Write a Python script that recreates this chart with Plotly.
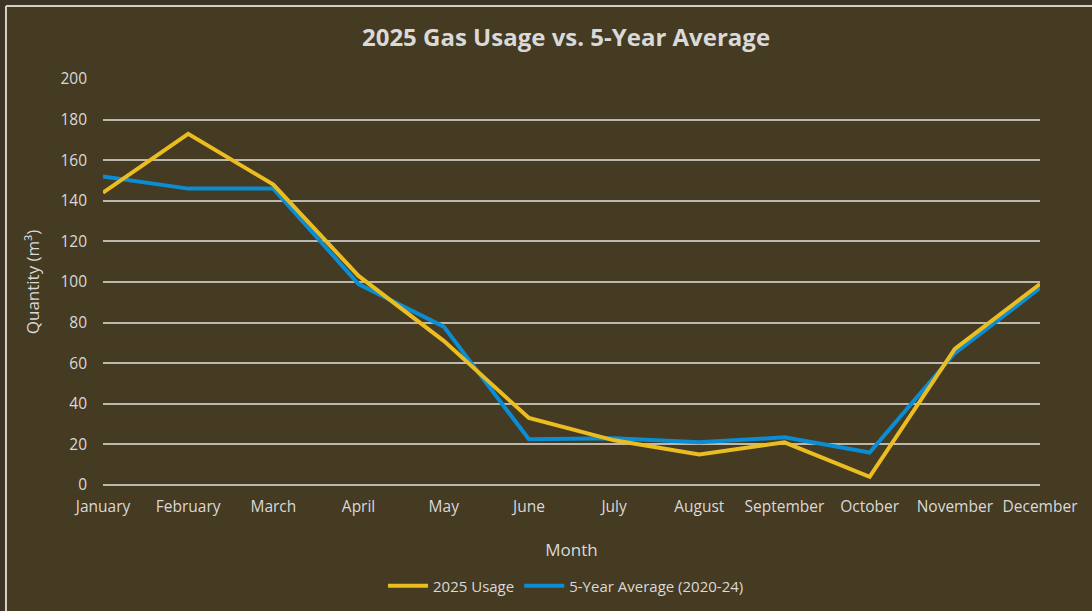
import plotly.graph_objects as go

months = ["January", "February", "March", "April", "May", "June", "July",
          "August", "September", "October", "November", "December"]
usage_2025 = [144, 173, 148, 103, 71, 33, 22, 15, 21, 4, 67, 99]
avg_5yr = [152, 146, 146, 99, 78, 22.5, 23, 21, 23.5, 16, 65, 97]
series_names = ["2025 Usage", "5-Year Average (2020-24)"]
y_ticks = [0, 20, 40, 60, 80, 100, 120, 140, 160, 180, 200]

BG = "#453a22"
TXT = "#d9d9d9"
FONT = "Open Sans"
GRID = "#bdb8ad"

fig = go.Figure()
fig.add_trace(go.Scatter(x=months, y=avg_5yr, mode="lines", name=series_names[1],
                         line=dict(color="#0b8dd4", width=4)))
fig.add_trace(go.Scatter(x=months, y=usage_2025, mode="lines", name=series_names[0],
                         line=dict(color="#ebbd21", width=4)))

L, R, T, B = 103, 52, 79, 126
W, H = 1092, 611
pw, ph = W - L - R, H - T - B

def px_x(p):
    return (p - L) / pw

def px_y(p):
    return (H - B - p) / ph

fig.update_layout(
    width=W, height=H,
    margin=dict(l=L, r=R, t=T, b=B, autoexpand=False),
    paper_bgcolor=BG, plot_bgcolor=BG,
    font=dict(family=FONT, color=TXT, size=15),
    title=dict(text="<b>2025 Gas Usage vs. 5-Year Average</b>", x=px_x(566), xref="paper",
               xanchor="center", y=1 - 38 / H, yanchor="middle",
               font=dict(size=24, color=TXT, family=FONT)),
    showlegend=True,
    legend=dict(orientation="h", x=px_x(566), xanchor="center", y=px_y(586), yanchor="middle",
                font=dict(size=15, color=TXT), bgcolor="rgba(0,0,0,0)", itemwidth=40,
                traceorder="reversed"),
    xaxis=dict(type="category", range=[0, 11], showgrid=False, zeroline=False,
               showline=False, ticks="", tickfont=dict(size=15.5, color=TXT),
               ticklabelstandoff=10, automargin=False,
               title=dict(text="Month", font=dict(size=17, color=TXT), standoff=28)),
    yaxis=dict(range=[0, 200], tickvals=y_ticks, showgrid=True, gridcolor=GRID,
               gridwidth=1.5, zeroline=True, zerolinecolor=GRID, zerolinewidth=1.5,
               showline=False, ticks="", automargin=False,
               tickfont=dict(size=15.5, color=TXT), ticklabelstandoff=15,
               title=dict(text="Quantity (m³)", font=dict(size=17, color=TXT), standoff=16)),
    shapes=[
        dict(type="rect", xref="paper", yref="paper", layer="below",
             x0=px_x(-20), x1=px_x(1200), y0=px_y(-20), y1=px_y(4.5),
             fillcolor="#3b3327", line=dict(width=0)),
        dict(type="rect", xref="paper", yref="paper", layer="below",
             x0=px_x(-20), x1=px_x(4.5), y0=px_y(-20), y1=px_y(700),
             fillcolor="#3b3327", line=dict(width=0)),
        dict(type="line", xref="paper", yref="paper", layer="below",
             x0=px_x(6), x1=px_x(1200), y0=px_y(6), y1=px_y(6),
             line=dict(color="#d6cfbd", width=2)),
        dict(type="line", xref="paper", yref="paper", layer="below",
             x0=px_x(6), x1=px_x(6), y0=px_y(6), y1=px_y(700),
             line=dict(color="#d6cfbd", width=2)),
    ],
)

fig.write_html("out.html", config={"displayModeBar": False},
               post_script="document.body.style.margin='0';document.body.style.overflow='hidden';"
                           "document.body.style.background='#453a22';")
